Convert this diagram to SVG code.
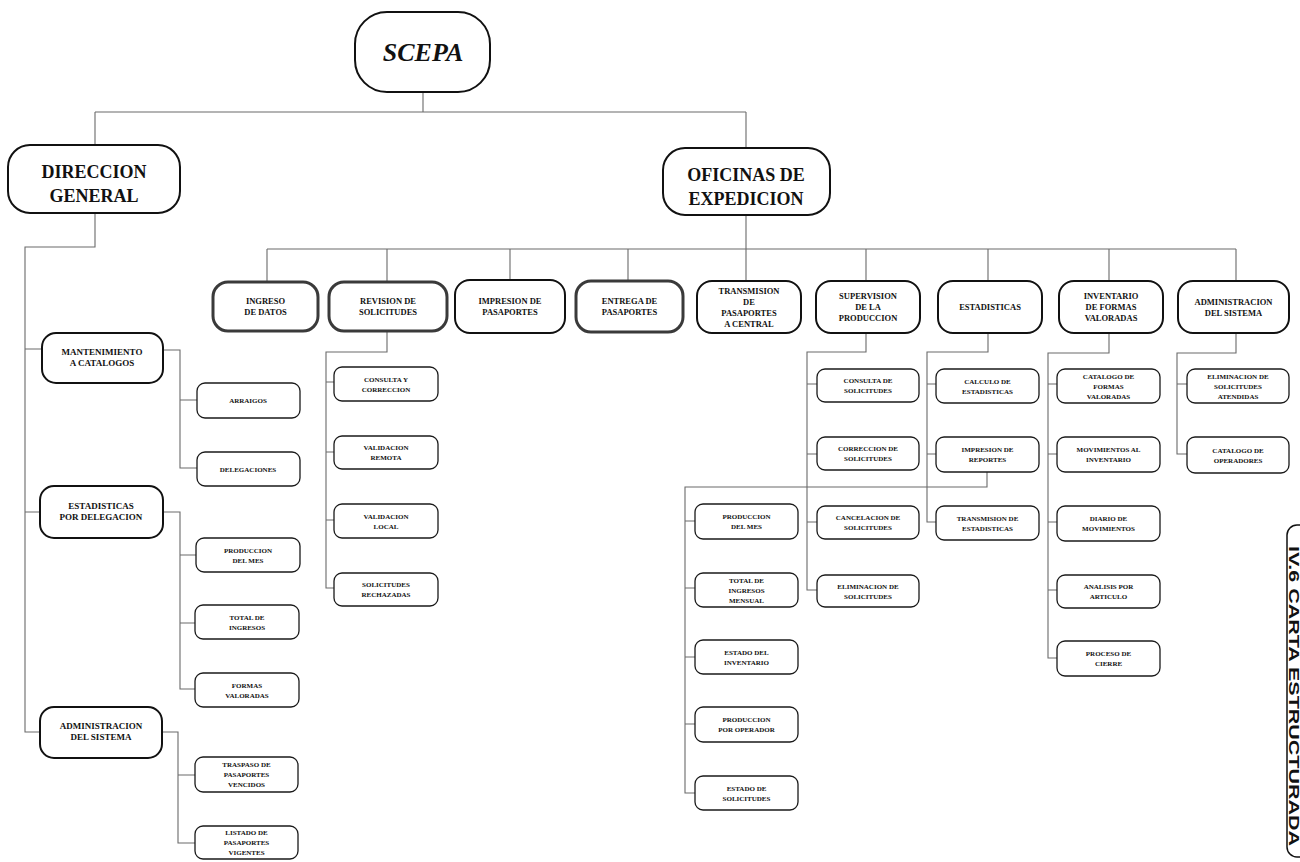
<svg xmlns="http://www.w3.org/2000/svg" width="1300" height="862" viewBox="0 0 1300 862">
<style>
.c{fill:none;stroke:#6a6a6a;stroke-width:1.1}
.b{fill:#fff;stroke:#111;stroke-width:2}
.k{fill:#fff;stroke:#3a3a3a;stroke-width:3}
.l{fill:#fff;stroke:#1a1a1a;stroke-width:1.3}
text{font-family:"Liberation Serif","Times New Roman",serif;font-weight:bold;text-anchor:middle;fill:#111}
.t1{font-size:26px;font-style:italic}
.t2{font-size:18px}
.t3{font-size:8.5px}
.t4{font-size:9px}
.t5{font-size:7px}
.side{font-family:"Liberation Sans",Arial,sans-serif;font-size:14.5px}
</style>
<rect width="1300" height="862" fill="#fff"/>
<g id="connectors">
<path class="c" d="M423,92 V112 M95,112 H746 M95,112 V145 M746,112 V148"/>
<path class="c" d="M95,213 V247 H25 V732 H40 M25,349 H42 M25,512 H40"/>
<path class="c" d="M163,350 H180 V468 H197 M180,400 H197"/>
<path class="c" d="M163,512 H180 V689 H195 M180,555 H196 M180,623 H195"/>
<path class="c" d="M162,732 H178 V843 H195 M178,775 H195"/>
<path class="c" d="M746,215 V281 M267,249 H1236 M267,249 V282 M387,249 V282 M510,249 V280 M628,249 V281 M866,249 V281 M988,249 V281 M1109,249 V281 M1236,249 V281"/>
<path class="c" d="M387,331 V352 H326 V588 H334 M326,382 H334 M326,452 H334 M326,520 H334"/>
<path class="c" d="M866,333 V352 H807 V590 H817 M807,384 H817 M807,454 H817 M807,522 H817"/>
<path class="c" d="M988,333 V352 H927 V522 H936 M927,384 H936 M927,454 H936"/>
<path class="c" d="M987,472 V487 H685 V793 H695 M685,521 H695 M685,588 H695 M685,657 H695 M685,724 H695"/>
<path class="c" d="M1109,333 V353 H1048 V658 H1057 M1048,384 H1057 M1048,454 H1057 M1048,522 H1057 M1048,590 H1057"/>
<path class="c" d="M1236,333 V353 H1177 V454 H1187 M1177,384 H1187"/>
</g>
<g id="scepa"><rect class="b" x="355" y="12" width="135" height="80" rx="32"/><text class="t1" x="423" y="61">SCEPA</text></g>
<g id="direccion"><rect class="b" x="8" y="145" width="172" height="68" rx="22"/><text class="t2" x="94" y="178">DIRECCION</text><text class="t2" x="94" y="202">GENERAL</text></g>
<g id="oficinas"><rect class="b" x="663" y="148" width="167" height="67" rx="22"/><text class="t2" x="746" y="181">OFICINAS DE</text><text class="t2" x="746" y="205">EXPEDICION</text></g>

<g id="mantenimiento"><rect class="b" x="42" y="333" width="121" height="50" rx="14" stroke-width="2.5"/><text class="t4" x="102" y="355">MANTENIMIENTO</text><text class="t4" x="102" y="366">A CATALOGOS</text></g>
<g id="estad-deleg"><rect class="b" x="40" y="486" width="123" height="52" rx="14" stroke-width="2.5"/><text class="t4" x="101" y="509">ESTADISTICAS</text><text class="t4" x="101" y="520">POR DELEGACION</text></g>
<g id="admin-dg"><rect class="b" x="40" y="707" width="122" height="51" rx="14"/><text class="t4" x="101" y="729">ADMINISTRACION</text><text class="t4" x="101" y="740">DEL SISTEMA</text></g>

<g id="arraigos"><rect class="l" x="197" y="383" width="103" height="35" rx="8"/><text class="t5" x="248" y="403">ARRAIGOS</text></g>
<g id="delegaciones"><rect class="l" x="197" y="452" width="103" height="34" rx="8"/><text class="t5" x="248" y="471.5">DELEGACIONES</text></g>
<g id="prod-mes-dg"><rect class="l" x="196" y="538" width="104" height="34" rx="8"/><text class="t5" x="248" y="552.5">PRODUCCION</text><text class="t5" x="248" y="562.5">DEL MES</text></g>
<g id="total-ing-dg"><rect class="l" x="195" y="605" width="104" height="34" rx="8"/><text class="t5" x="247" y="619.5">TOTAL DE</text><text class="t5" x="247" y="629.5">INGRESOS</text></g>
<g id="formas-val"><rect class="l" x="195" y="673" width="104" height="34" rx="8"/><text class="t5" x="247" y="687.5">FORMAS</text><text class="t5" x="247" y="697.5">VALORADAS</text></g>
<g id="traspaso"><rect class="l" x="195" y="757" width="103" height="35" rx="8"/><text class="t5" x="246.5" y="767">TRASPASO DE</text><text class="t5" x="246.5" y="777">PASAPORTES</text><text class="t5" x="246.5" y="787">VENCIDOS</text></g>
<g id="listado"><rect class="l" x="195" y="826" width="103" height="33" rx="8"/><text class="t5" x="246.5" y="835">LISTADO DE</text><text class="t5" x="246.5" y="845">PASAPORTES</text><text class="t5" x="246.5" y="855">VIGENTES</text></g>

<g id="ingreso"><rect class="k" x="213" y="282" width="105" height="49" rx="15"/><text class="t3" x="265.5" y="304">INGRESO</text><text class="t3" x="265.5" y="315">DE DATOS</text></g>
<g id="revision"><rect class="k" x="329" y="282" width="118" height="49" rx="15"/><text class="t3" x="388" y="304">REVISION DE</text><text class="t3" x="388" y="315">SOLICITUDES</text></g>
<g id="impresion"><rect class="b" x="455" y="280" width="110" height="53" rx="15"/><text class="t3" x="510" y="304">IMPRESION DE</text><text class="t3" x="510" y="315">PASAPORTES</text></g>
<g id="entrega"><rect class="k" x="576" y="281" width="107" height="51" rx="15"/><text class="t3" x="629.5" y="304">ENTREGA DE</text><text class="t3" x="629.5" y="315">PASAPORTES</text></g>
<g id="transmision"><rect class="b" x="697" y="281" width="104" height="52" rx="15"/><text class="t3" x="749" y="293.5">TRANSMISION</text><text class="t3" x="749" y="304.5">DE</text><text class="t3" x="749" y="315.5">PASAPORTES</text><text class="t3" x="749" y="326.5">A CENTRAL</text></g>
<g id="supervision"><rect class="b" x="816" y="281" width="104" height="52" rx="15"/><text class="t3" x="868" y="299">SUPERVISION</text><text class="t3" x="868" y="310">DE LA</text><text class="t3" x="868" y="321">PRODUCCION</text></g>
<g id="estadisticas"><rect class="b" x="938" y="281" width="104" height="52" rx="15"/><text class="t3" x="990" y="310">ESTADISTICAS</text></g>
<g id="inventario"><rect class="b" x="1059" y="281" width="104" height="52" rx="15"/><text class="t3" x="1111" y="299">INVENTARIO</text><text class="t3" x="1111" y="310">DE FORMAS</text><text class="t3" x="1111" y="321">VALORADAS</text></g>
<g id="admin-oe"><rect class="b" x="1178" y="281" width="111" height="52" rx="15"/><text class="t3" x="1233.5" y="304.5">ADMINISTRACION</text><text class="t3" x="1233.5" y="315.5">DEL SISTEMA</text></g>

<g id="consulta-corr"><rect class="l" x="334" y="367" width="104" height="34" rx="8"/><text class="t5" x="386" y="381.5">CONSULTA Y</text><text class="t5" x="386" y="391.5">CORRECCION</text></g>
<g id="val-remota"><rect class="l" x="334" y="436" width="104" height="33" rx="8"/><text class="t5" x="386" y="450">VALIDACION</text><text class="t5" x="386" y="460">REMOTA</text></g>
<g id="val-local"><rect class="l" x="334" y="504" width="104" height="34" rx="8"/><text class="t5" x="386" y="518.5">VALIDACION</text><text class="t5" x="386" y="528.5">LOCAL</text></g>
<g id="sol-rech"><rect class="l" x="334" y="573" width="104" height="33" rx="8"/><text class="t5" x="386" y="587">SOLICITUDES</text><text class="t5" x="386" y="597">RECHAZADAS</text></g>

<g id="prod-mes-oe"><rect class="l" x="695" y="504" width="103" height="35" rx="8"/><text class="t5" x="746.5" y="519">PRODUCCION</text><text class="t5" x="746.5" y="529">DEL MES</text></g>
<g id="total-ing-oe"><rect class="l" x="695" y="573" width="103" height="34" rx="8"/><text class="t5" x="746.5" y="582.5">TOTAL DE</text><text class="t5" x="746.5" y="592.5">INGRESOS</text><text class="t5" x="746.5" y="602.5">MENSUAL</text></g>
<g id="estado-inv"><rect class="l" x="695" y="640" width="103" height="34" rx="8"/><text class="t5" x="746.5" y="654.5">ESTADO DEL</text><text class="t5" x="746.5" y="664.5">INVENTARIO</text></g>
<g id="prod-oper"><rect class="l" x="695" y="707" width="103" height="35" rx="8"/><text class="t5" x="746.5" y="722">PRODUCCION</text><text class="t5" x="746.5" y="732">POR OPERADOR</text></g>
<g id="estado-sol"><rect class="l" x="695" y="776" width="103" height="34" rx="8"/><text class="t5" x="746.5" y="790.5">ESTADO DE</text><text class="t5" x="746.5" y="800.5">SOLICITUDES</text></g>

<g id="consulta-sol"><rect class="l" x="817" y="369" width="102" height="33" rx="8"/><text class="t5" x="868" y="383">CONSULTA DE</text><text class="t5" x="868" y="393">SOLICITUDES</text></g>
<g id="correccion-sol"><rect class="l" x="817" y="437" width="102" height="33" rx="8"/><text class="t5" x="868" y="451">CORRECCION DE</text><text class="t5" x="868" y="461">SOLICITUDES</text></g>
<g id="cancelacion-sol"><rect class="l" x="817" y="506" width="102" height="33" rx="8"/><text class="t5" x="868" y="520">CANCELACION DE</text><text class="t5" x="868" y="530">SOLICITUDES</text></g>
<g id="eliminacion-sol"><rect class="l" x="817" y="575" width="102" height="32" rx="8"/><text class="t5" x="868" y="588.5">ELIMINACION DE</text><text class="t5" x="868" y="598.5">SOLICITUDES</text></g>

<g id="calculo"><rect class="l" x="936" y="369" width="103" height="34" rx="8"/><text class="t5" x="987.5" y="383.5">CALCULO DE</text><text class="t5" x="987.5" y="393.5">ESTADISTICAS</text></g>
<g id="impresion-rep"><rect class="l" x="936" y="437" width="103" height="35" rx="8"/><text class="t5" x="987.5" y="452">IMPRESION DE</text><text class="t5" x="987.5" y="462">REPORTES</text></g>
<g id="transmision-est"><rect class="l" x="936" y="506" width="103" height="34" rx="8"/><text class="t5" x="987.5" y="520.5">TRANSMISION DE</text><text class="t5" x="987.5" y="530.5">ESTADISTICAS</text></g>

<g id="catalogo-formas"><rect class="l" x="1057" y="369" width="103" height="34" rx="8"/><text class="t5" x="1108.5" y="378.5">CATALOGO DE</text><text class="t5" x="1108.5" y="388.5">FORMAS</text><text class="t5" x="1108.5" y="398.5">VALORADAS</text></g>
<g id="movimientos"><rect class="l" x="1057" y="437" width="103" height="35" rx="8"/><text class="t5" x="1108.5" y="452">MOVIMIENTOS AL</text><text class="t5" x="1108.5" y="462">INVENTARIO</text></g>
<g id="diario"><rect class="l" x="1057" y="506" width="103" height="35" rx="8"/><text class="t5" x="1108.5" y="521">DIARIO DE</text><text class="t5" x="1108.5" y="531">MOVIMIENTOS</text></g>
<g id="analisis"><rect class="l" x="1057" y="575" width="103" height="33" rx="8"/><text class="t5" x="1108.5" y="589">ANALISIS POR</text><text class="t5" x="1108.5" y="599">ARTICULO</text></g>
<g id="cierre"><rect class="l" x="1057" y="641" width="103" height="35" rx="8"/><text class="t5" x="1108.5" y="656">PROCESO DE</text><text class="t5" x="1108.5" y="666">CIERRE</text></g>

<g id="elim-atendidas"><rect class="l" x="1187" y="369" width="102" height="34" rx="8"/><text class="t5" x="1238" y="378.5">ELIMINACION DE</text><text class="t5" x="1238" y="388.5">SOLICITUDES</text><text class="t5" x="1238" y="398.5">ATENDIDAS</text></g>
<g id="catalogo-oper"><rect class="l" x="1187" y="437" width="102" height="36" rx="8"/><text class="t5" x="1238" y="452.5">CATALOGO DE</text><text class="t5" x="1238" y="462.5">OPERADORES</text></g>

<g id="title-tab"><rect x="1287" y="525" width="40" height="332" rx="10" fill="#fff" stroke="#111" stroke-width="1.5"/><text class="side" transform="translate(1289,696) rotate(90)" textLength="300" lengthAdjust="spacingAndGlyphs">IV.6  CARTA  ESTRUCTURADA</text></g>
</svg>
